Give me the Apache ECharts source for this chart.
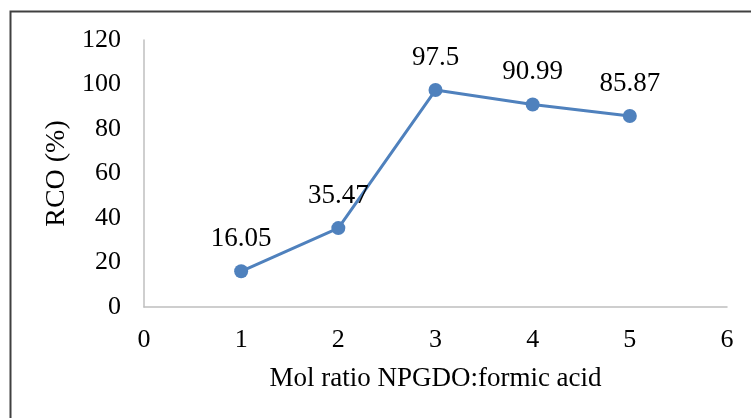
<!DOCTYPE html>
<html>
<head>
<meta charset="utf-8">
<script src="https://cdn.jsdelivr.net/npm/echarts@6/dist/echarts.min.js"></script>
<style>html,body{margin:0;padding:0;background:#fff;}#c{width:751px;height:418px;}</style>
</head>
<body>
<div id="c"></div>
<script>
var xValues = [1, 2, 3, 4, 5];
var rcoValues = [16.05, 35.47, 97.5, 90.99, 85.87];
var xTitle = 'Mol ratio NPGDO:formic acid';
var yTitle = 'RCO (%)';

var chart = echarts.init(document.getElementById('c'));
var font = 'Liberation Serif, Times New Roman, serif';
chart.setOption({
  animation: false,
  backgroundColor: '#fff',
  graphic: [{
    type: 'rect', left: 8, top: 9, shape: {width: 900, height: 600},
    style: {fill: 'none', stroke: '#404040', lineWidth: 2}, z: 0
  }],
  grid: {left: 144, top: 40, right: 24, bottom: 111},
  xAxis: {
    type: 'value', min: 0, max: 6, interval: 1,
    name: xTitle, nameLocation: 'middle', nameGap: 58,
    nameTextStyle: {fontFamily: font, fontSize: 27, color: '#000'},
    axisLine: {lineStyle: {color: '#bfbfbf', width: 1.5}},
    axisTick: {show: false},
    axisLabel: {fontFamily: font, fontSize: 26, color: '#000', margin: 20},
    splitLine: {show: false}
  },
  yAxis: {
    type: 'value', min: 0, max: 120, interval: 20,
    name: yTitle, nameLocation: 'middle', nameGap: 70, nameRotate: 90,
    nameTextStyle: {fontFamily: font, fontSize: 28, color: '#000'},
    axisLine: {show: true, lineStyle: {color: '#bfbfbf', width: 1.5}},
    axisTick: {show: false},
    axisLabel: {fontFamily: font, fontSize: 26, color: '#000', margin: 23},
    splitLine: {show: false}
  },
  series: [{
    type: 'line',
    data: xValues.map(function (x, i) { return [x, rcoValues[i]]; }),
    symbol: 'circle', symbolSize: 14,
    lineStyle: {color: '#4f81bd', width: 3},
    itemStyle: {color: '#4f81bd'},
    label: {show: true, position: 'top', distance: 12, fontFamily: font, fontSize: 27, color: '#000',
      formatter: function (p) { return String(p.value[1]); }}
  }]
});
</script>
</body>
</html>
